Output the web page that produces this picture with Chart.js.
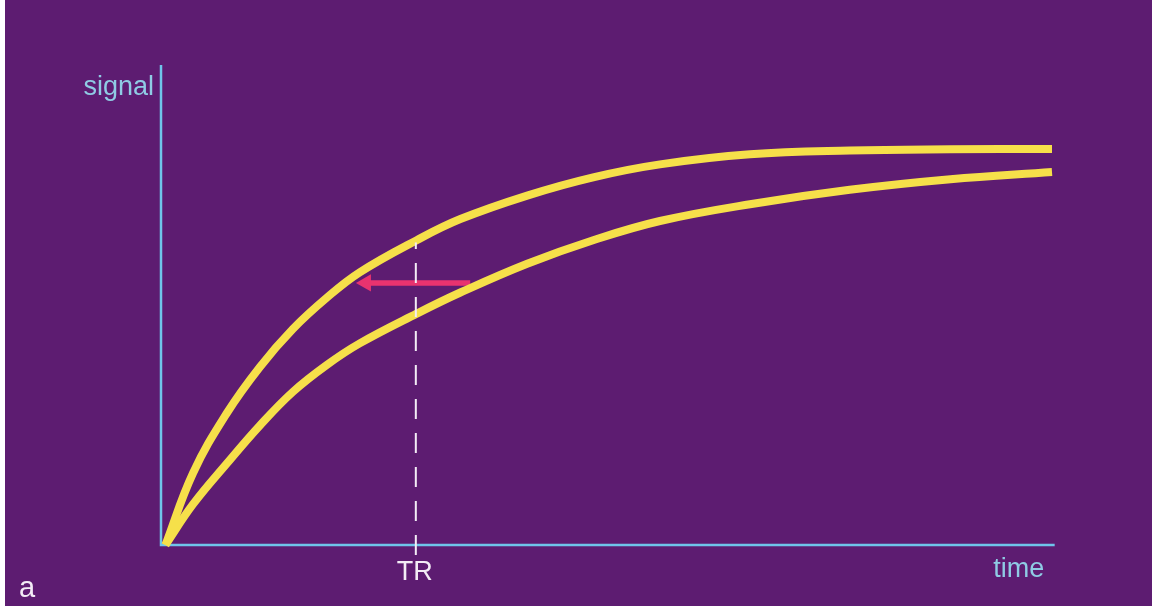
<!DOCTYPE html>
<html>
<head>
<meta charset="utf-8">
<script src="https://cdn.jsdelivr.net/npm/chart.js@4.4.1/dist/chart.umd.min.js"></script>
<style>
  html, body { margin: 0; padding: 0; background: #ffffff; }
  #wrap { width: 1152px; height: 611px; }
</style>
</head>
<body>
<div id="wrap"><canvas id="signalChart" width="1152" height="611"></canvas></div>
<script>
// time axis positions (arbitrary units, 0..100)
const times = [0.5, 3.6, 7.4, 11.1, 14.8, 18.6, 22.3, 28.7, 33.6, 41.1, 48.5, 56.0, 66.1, 77.3, 88.6, 100];
// signal of the short-T1 tissue (upper curve)
const upperSignal = [0, 15.0, 27.5, 37.1, 45.0, 51.5, 56.8, 63.5, 67.9, 72.8, 76.6, 79.3, 81.4, 82.2, 82.45, 82.5];
// signal of the long-T1 tissue (lower curve)
const lowerSignal = [0, 8.5, 17.0, 24.9, 31.9, 37.5, 42.0, 48.2, 52.6, 58.6, 63.5, 67.5, 71.0, 74.0, 76.2, 77.7];
// repetition time marker
const trTime = 28.6;
const trTop = 63.0;
const trBottom = -2.1;
// arrow from lower curve to upper curve
const arrowFrom = 34.7;
const arrowTo = 23.0;
const arrowLevel = 54.6;

const purple = "rgb(93, 28, 113)";
const yellow = "#f6e04a";
const axisBlue = "#6fc4ea";
const textBlue = "#8fcbe4";

function toPoints(xs, ys) {
  return xs.map((x, i) => ({ x: x, y: ys[i] }));
}

const backdrop = {
  id: "backdrop",
  beforeDraw(chart) {
    const ctx = chart.ctx;
    ctx.save();
    ctx.fillStyle = "#ffffff";
    ctx.fillRect(0, 0, chart.width, chart.height);
    ctx.fillStyle = purple;
    ctx.fillRect(5, 0, chart.width - 5, 606);
    ctx.restore();
  },
};

const axesAndText = {
  id: "axesAndText",
  beforeDatasetsDraw(chart) {
    const ctx = chart.ctx;
    const xs = chart.scales.x;
    const ys = chart.scales.y;
    const x0 = xs.getPixelForValue(0);
    const y0 = ys.getPixelForValue(0);
    ctx.save();
    ctx.strokeStyle = axisBlue;
    ctx.lineWidth = 2.5;
    ctx.beginPath();
    ctx.moveTo(x0, ys.getPixelForValue(100));
    ctx.lineTo(x0, y0);
    ctx.lineTo(xs.getPixelForValue(100.3), y0);
    ctx.stroke();

    ctx.font = "27px 'Liberation Sans', Arial, sans-serif";
    ctx.textBaseline = "alphabetic";
    ctx.fillStyle = textBlue;
    ctx.textAlign = "right";
    ctx.fillText("signal", x0 - 7, 95);
    ctx.textAlign = "left";
    ctx.fillText("time", xs.getPixelForValue(93.4), 577);
    ctx.fillStyle = "#f3ecf6";
    ctx.textAlign = "center";
    ctx.fillText("TR", xs.getPixelForValue(trTime) - 1, 580);
    ctx.textAlign = "left";
    ctx.font = "29px 'Liberation Sans', Arial, sans-serif";
    ctx.fillText("a", 19, 597);
    ctx.restore();
  },
};

new Chart(document.getElementById("signalChart"), {
  type: "line",
  data: {
    datasets: [
      {
        label: "TR",
        data: [{ x: trTime, y: trBottom }, { x: trTime, y: trTop }],
        borderColor: "#f3ecf6",
        borderWidth: 2,
        borderDash: [20, 14],
        pointRadius: 0,
        clip: false,
      },
      {
        label: "long T1",
        data: toPoints(times, lowerSignal),
        borderColor: yellow,
        borderWidth: 8,
        borderCapStyle: "butt",
        tension: 0.4,
        pointRadius: 0,
        clip: false,
      },
      {
        label: "short T1",
        data: toPoints(times, upperSignal),
        borderColor: yellow,
        borderWidth: 8,
        borderCapStyle: "butt",
        tension: 0.4,
        pointRadius: 0,
        clip: false,
      },
      {
        label: "arrow",
        data: [{ x: arrowFrom, y: arrowLevel }, { x: arrowTo, y: arrowLevel }],
        borderColor: "#e8336f",
        backgroundColor: "#e8336f",
        borderWidth: 5.5,
        borderCapStyle: "butt",
        pointRadius: [0, 10],
        pointBorderWidth: 0,
        pointStyle: "triangle",
        pointRotation: -90,
        clip: false,
      },
    ],
  },
  options: {
    responsive: false,
    animation: false,
    events: [],
    layout: { padding: { left: 161, right: 100, top: 65, bottom: 66 } },
    plugins: {
      legend: { display: false },
      tooltip: { enabled: false },
    },
    scales: {
      x: { type: "linear", min: 0, max: 100, display: false },
      y: { type: "linear", min: 0, max: 100, display: false },
    },
  },
  plugins: [backdrop, axesAndText],
});
</script>
</body>
</html>
